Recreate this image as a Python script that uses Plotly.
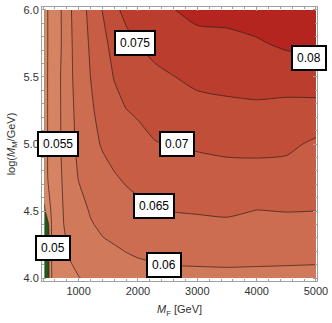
import plotly.graph_objects as go

# M_F grid (GeV) and log10(M_M/GeV) grid
mf_gev = [420, 550, 650, 750, 850, 1000, 1200, 1400, 1600, 1800, 2000,
          2300, 2600, 3000, 3500, 4000, 4500, 5000]
log_mm = [4.0, 4.1, 4.2, 4.3, 4.4, 4.5, 4.75, 5.0, 5.25, 5.5, 5.75, 6.0]

# values (rows follow log_mm)
z_40 = [0.0360, 0.0503, 0.0513, 0.0525, 0.0533, 0.0549, 0.0556, 0.0562, 0.0568, 0.0574, 0.0578, 0.0582, 0.0585, 0.0587, 0.0588, 0.0588, 0.0588, 0.0587]
z_41 = [0.0360, 0.0505, 0.0519, 0.0533, 0.0548, 0.0555, 0.0563, 0.0572, 0.0580, 0.0589, 0.0594, 0.0598, 0.0601, 0.0602, 0.0603, 0.0602, 0.0601, 0.0600]
z_42 = [0.0360, 0.0506, 0.0524, 0.0541, 0.0553, 0.0561, 0.0572, 0.0583, 0.0594, 0.0601, 0.0606, 0.0610, 0.0614, 0.0615, 0.0617, 0.0614, 0.0614, 0.0612]
z_43 = [0.0360, 0.0507, 0.0527, 0.0547, 0.0556, 0.0568, 0.0583, 0.0599, 0.0606, 0.0612, 0.0617, 0.0622, 0.0626, 0.0628, 0.0630, 0.0626, 0.0626, 0.0625]
z_44 = [0.0370, 0.0508, 0.0529, 0.0550, 0.0560, 0.0576, 0.0597, 0.0607, 0.0615, 0.0621, 0.0628, 0.0634, 0.0638, 0.0641, 0.0643, 0.0637, 0.0638, 0.0637]
z_45 = [0.0440, 0.0510, 0.0533, 0.0552, 0.0565, 0.0585, 0.0603, 0.0616, 0.0624, 0.0632, 0.0639, 0.0646, 0.0651, 0.0653, 0.0656, 0.0649, 0.0651, 0.0650]
z_475 = [0.0488, 0.0514, 0.0536, 0.0557, 0.0577, 0.0602, 0.0615, 0.0635, 0.0646, 0.0656, 0.0663, 0.0673, 0.0676, 0.0680, 0.0683, 0.0682, 0.0681, 0.0671]
z_50 = [0.0488, 0.0515, 0.0538, 0.0562, 0.0585, 0.0610, 0.0635, 0.0654, 0.0668, 0.0677, 0.0685, 0.0698, 0.07005, 0.0706, 0.0711, 0.0713, 0.0710, 0.0692]
z_525 = [0.0488, 0.0515, 0.0538, 0.0563, 0.0588, 0.0614, 0.0643, 0.0666, 0.0686, 0.0699, 0.0706, 0.0719, 0.0725, 0.0734, 0.0739, 0.0741, 0.0737, 0.0734]
z_55 = [0.0488, 0.0515, 0.0538, 0.0564, 0.0591, 0.0618, 0.0650, 0.0677, 0.0702, 0.0720, 0.0729, 0.0741, 0.0749, 0.0761, 0.0765, 0.0769, 0.0770, 0.0776]
z_575 = [0.0488, 0.0514, 0.0536, 0.0560, 0.0592, 0.0621, 0.0656, 0.0689, 0.0713, 0.0741, 0.0751, 0.0764, 0.0774, 0.0786, 0.0789, 0.0795, 0.0808, 0.0812]
z_60 = [0.0488, 0.0514, 0.0536, 0.0561, 0.0594, 0.0625, 0.0663, 0.0701, 0.0743, 0.0758, 0.0768, 0.0785, 0.0799, 0.0812, 0.0813, 0.0822, 0.0838, 0.0842]
z_grid = [z_40, z_41, z_42, z_43, z_44, z_45, z_475, z_50, z_525, z_55, z_575, z_60]

# contour levels and band colours (lowest band first)
level_start, level_end, level_step = 0.045, 0.08, 0.005
band_colors = ["rgb(36,86,26)", "rgb(216,138,104)", "rgb(213,131,98)",
               "rgb(209,122,91)", "rgb(204,109,81)", "rgb(198,93,68)",
               "rgb(193,78,57)", "rgb(187,61,45)", "rgb(179,37,30)"]

# contour labels
label_text = ["0.05", "0.055", "0.06", "0.065", "0.07", "0.075", "0.08"]
label_x = [567, 650, 2433, 2267, 2658, 1950, 4883]
label_y = [4.221, 5.0, 4.1, 4.54, 5.0, 5.753, 5.642]

x_ticks = [1000, 2000, 3000, 4000, 5000]
y_ticks = [4.0, 4.5, 5.0, 5.5, 6.0]
y_ticktext = ["4.0", "4.5", "5.0", "5.5", "6.0"]

nb = len(band_colors)
colorscale = [[i / (nb - 1), c] for i, c in enumerate(band_colors)]

font_family = "Liberation Sans, Arial, sans-serif"
frame_col = "#a0a0a0"

fig = go.Figure()
fig.add_trace(go.Contour(
    x=mf_gev, y=log_mm, z=z_grid,
    contours=dict(start=level_start, end=level_end, size=level_step,
                  coloring="fill", showlines=True),
    colorscale=colorscale, showscale=False,
    line=dict(color="rgba(55,30,25,0.8)", width=0.9, smoothing=0.6),
    hoverinfo="skip",
))

for t, lx, ly in zip(label_text, label_x, label_y):
    fig.add_annotation(x=lx, y=ly, xref="x", yref="y", text=t, showarrow=False,
                       font=dict(family=font_family, size=12, color="black"),
                       bgcolor="white", bordercolor="black", borderwidth=2,
                       borderpad=4, xanchor="center", yanchor="middle")

axis_common = dict(
    ticks="inside", ticklen=4, tickcolor=frame_col, tickwidth=1,
    showline=True, linecolor=frame_col, linewidth=1, mirror="allticks",
    showgrid=False, zeroline=False,
    tickfont=dict(family=font_family, size=11, color="#333333"),
)

fig.update_layout(
    width=332, height=323,
    margin=dict(l=42, r=12, t=4, b=42),
    paper_bgcolor="white", plot_bgcolor="white",
    showlegend=False,
    xaxis=dict(range=[383, 5017], tickvals=x_ticks,
               minor=dict(ticks="inside", ticklen=2, dtick=200, tick0=0,
                          tickcolor=frame_col),
               title=dict(text="<i>M</i><sub>F</sub> [GeV]", standoff=9,
                          font=dict(family=font_family, size=11, color="#333333")),
               **axis_common),
    yaxis=dict(range=[3.978, 6.022], tickvals=y_ticks, ticktext=y_ticktext,
               minor=dict(ticks="inside", ticklen=2, dtick=0.1, tick0=0,
                          tickcolor=frame_col),
               title=dict(text="log(<i>M</i><sub>M</sub>/GeV)", standoff=5,
                          font=dict(family=font_family, size=11, color="#333333")),
               **axis_common),
)

fig.write_html("out.html", config={"displayModeBar": False},
               post_script="document.body.style.margin='0px';document.body.style.overflow='hidden';")
